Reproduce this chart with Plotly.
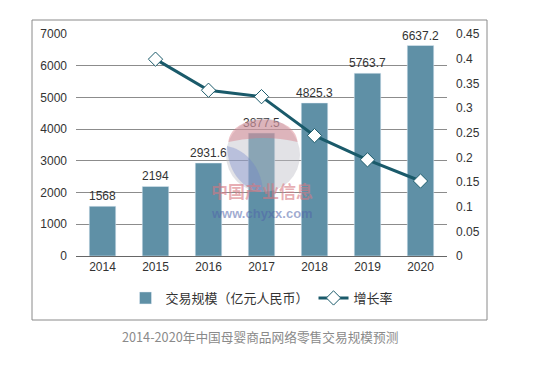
import plotly.graph_objects as go

years = ["2014", "2015", "2016", "2017", "2018", "2019", "2020"]
scale = [1568, 2194, 2931.6, 3877.5, 4825.3, 5763.7, 6637.2]
scale_labels = ["1568", "2194", "2931.6", "3877.5", "4825.3", "5763.7", "6637.2"]
growth_years = ["2015", "2016", "2017", "2018", "2019", "2020"]
growth = [0.399, 0.336, 0.323, 0.244, 0.195, 0.152]

bar_name = "交易规模（亿元人民币）"
line_name = "增长率"
title_text = "2014-2020年中国母婴商品网络零售交易规模预测"

BAR_COLOR = "#5f90a6"
LINE_COLOR = "#1a5a6a"
LATIN = "Liberation Sans, Arial, sans-serif"
CJK = "Noto Sans CJK SC, sans-serif"

fig = go.Figure()
fig.add_trace(go.Bar(
    x=years, y=scale, name=bar_name, marker_color=BAR_COLOR,
    text=scale_labels, textposition="outside", cliponaxis=False,
    constraintext="none",
    textfont=dict(family=LATIN, size=12, color="#333333"),
))
fig.add_trace(go.Scatter(
    x=growth_years, y=growth, name=line_name, yaxis="y2", mode="lines+markers",
    line=dict(color=LINE_COLOR, width=3),
    marker=dict(symbol="diamond", size=11, color="white", line=dict(color=LINE_COLOR, width=1)),
))

W, H = 551, 368
OFF = 8  # page body margin offset
L, R, T, B = 76 - OFF, 447 - OFF, 34 - OFF, 256 - OFF
pw, ph = R - L, B - T

def px(x):
    return (x - OFF - L) / pw

def py(y):
    return (B - (y - OFF)) / ph

fig.update_layout(
    width=W, height=H, autosize=False,
    margin=dict(l=L, r=W - R, t=T, b=H - B),
    paper_bgcolor="white", plot_bgcolor="white",
    bargap=0.5,
    font=dict(family=LATIN, size=12, color="#333333"),
    xaxis=dict(type="category", showgrid=False, showline=True, linecolor="#666666",
               linewidth=1, ticks="", tickfont=dict(size=12, color="#333333"),
               automargin=False),
    yaxis=dict(range=[0, 7000], dtick=1000, tickformat="d", showgrid=True,
               gridcolor="#8c8c8c", gridwidth=1, zeroline=False, showline=False,
               ticks="", ticklabelstandoff=8, tickfont=dict(size=12, color="#333333"),
               automargin=False),
    yaxis2=dict(range=[0, 0.45], dtick=0.05, overlaying="y", side="right",
                showgrid=False, zeroline=False, showline=False, ticks="",
                ticklabelstandoff=8, tickfont=dict(size=12, color="#333333"),
                automargin=False),
    legend=dict(orientation="h", x=px(262), xanchor="center", y=py(298), yanchor="middle",
                font=dict(family=CJK, size=13, color="#333333"), traceorder="normal",
                itemwidth=30),
    showlegend=True,
)

# outer border
fig.add_shape(type="rect", xref="paper", yref="paper",
              x0=px(32), x1=px(487), y0=py(320), y1=py(20),
              line=dict(color="#8a8a8a", width=1), fillcolor="rgba(0,0,0,0)", layer="below")

# watermark logo (decorative)
cx, cy, r = 263, 155, 37
fig.add_shape(type="circle", xref="paper", yref="paper",
              x0=px(cx - r), x1=px(cx + r), y0=py(cy + r), y1=py(cy - r),
              line=dict(width=0), fillcolor="rgba(190,190,200,0.45)", layer="above")
fig.add_shape(type="path", xref="paper", yref="paper",
              path=(f"M {px(228.4)},{py(142)} C {px(231)},{py(112)} {px(295)},{py(112)} {px(297.6)},{py(142)} "
                    f"Q {px(263)},{py(134)} {px(228.4)},{py(142)} Z"),
              line=dict(width=0), fillcolor="rgba(215,125,135,0.45)", layer="above")
fig.add_shape(type="path", xref="paper", yref="paper",
              path=(f"M {px(227)},{py(146)} C {px(228)},{py(175)} {px(245)},{py(190)} {px(263)},{py(192)} "
                    f"C {px(262)},{py(170)} {px(248)},{py(150)} {px(227)},{py(146)} Z"),
              line=dict(width=0), fillcolor="rgba(110,130,200,0.35)", layer="above")
fig.add_annotation(text="<b>中国产业信息</b>", xref="paper", yref="paper", x=px(262), y=py(205),
                   showarrow=False, font=dict(family=CJK, size=17, color="rgba(215,120,130,0.6)"))
fig.add_annotation(text="<b>www.chyxx.com</b>", xref="paper", yref="paper", x=px(262), y=py(223),
                   showarrow=False, font=dict(family=LATIN, size=13, color="rgba(80,100,170,0.55)"))

# caption
fig.add_annotation(text=title_text, xref="paper", yref="paper", x=px(260), y=py(348),
                   showarrow=False, font=dict(family=CJK, size=12.7, color="#8a8a8a"))

fig.write_html("out.html")
